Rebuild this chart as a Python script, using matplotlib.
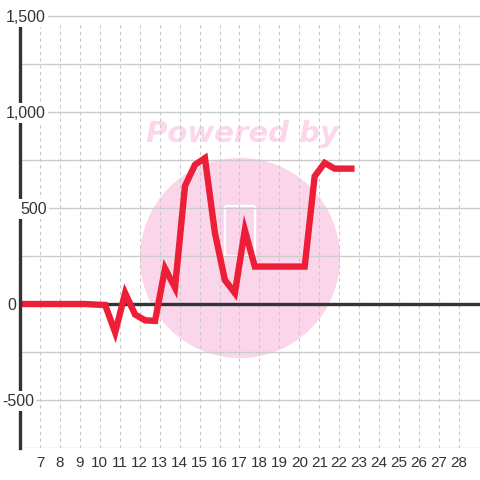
import matplotlib
matplotlib.use("Agg")
import matplotlib.pyplot as plt
from matplotlib.patches import Ellipse, FancyBboxPatch

plt.rcParams['font.family'] = ['Liberation Sans', 'DejaVu Sans']

# data (x in days, value)
days = [5.77, 6.27, 6.77, 7.27, 7.77, 8.27, 8.77, 9.27, 9.77, 10.27,
        10.77, 11.27, 11.77, 12.27, 12.77, 13.27, 13.77, 14.27, 14.77, 15.27,
        15.77, 16.27, 16.77, 17.27, 17.77, 18.27, 18.77, 19.27, 19.77, 20.27,
        20.77, 21.27, 21.77, 22.27, 22.77]
values = [0, 0, 0, 0, 0, 0, 0, 0, -3, -5,
          -148, 57, -55, -85, -88, 185, 85, 615, 725, 760,
          370, 125, 57, 385, 195, 195, 195, 195, 195, 195,
          665, 735, 705, 705, 705]

x_ticks = list(range(7, 29))
y_label_vals = [1500, 1000, 500, 0, -500]
y_label_text = ["1,500", "1,000", "500", "0", "-500"]
y_grid = [-750, -500, -250, 250, 500, 750, 1000, 1250, 1500]

W, H = 480, 480
fig = plt.figure(figsize=(4.8, 4.8), dpi=100)
fig.patch.set_facecolor('white')
ax = fig.add_axes([20 / W, 32 / H, 460 / W, 448 / H])
ax.set_facecolor('white')

xmin, xmax = 6, 6 + 460 / 19.95
ymin = -750
ymax = 304 / 0.192
ytop = (304 - 24) / 0.192
ax.set_xlim(xmin, xmax)
ax.set_ylim(ymin, ymax)

# watermark circle
circ = Ellipse(((240 - 20) / 460, (448 - 258) / 448), 200 / 460, 200 / 448,
               transform=ax.transAxes, facecolor='#fbd6ea', edgecolor='none', zorder=0.1)
ax.add_patch(circ)

# logo outline
logo = FancyBboxPatch(((225 - 20) / 460, (448 - 256) / 448), 30 / 460, 50 / 448,
                      boxstyle='round,pad=0,rounding_size=0.004',
                      transform=ax.transAxes, facecolor='none', edgecolor='white',
                      linewidth=1.6, zorder=0.2)
ax.add_patch(logo)

ax.text((242 - 20) / 460, (448 - 134) / 448, "Powered by", transform=ax.transAxes,
        ha='center', va='center', fontsize=21, fontweight='bold', fontstyle='italic',
        color='#fcd6ea', family=['DejaVu Sans'], zorder=0.3)

# grids
for yv in y_grid:
    ax.axhline(yv, color='#cccccc', linewidth=1.0, zorder=0.5)
ax.vlines(x_ticks, ymin, ytop, color='#c8c8c8', linewidth=0.8,
          linestyle=(0, (3, 3)), zorder=0.5)

# zero line
ax.axhline(0, color='#333333', linewidth=2.4, zorder=1)

# data line
ax.plot(days, values, color='#ed1e37', linewidth=4.6, solid_joinstyle='miter',
        solid_capstyle='butt', zorder=3)

# spines
for s in ['top', 'right', 'bottom']:
    ax.spines[s].set_visible(False)
ax.spines['left'].set_color('#333333')
ax.spines['left'].set_linewidth(2.4)
ax.spines['left'].set_zorder(4)
ax.spines['left'].set_bounds(ymin, ytop)

ax.set_yticks([])
ax.set_xticks(x_ticks)
ax.set_xticklabels([str(v) for v in x_ticks], fontsize=11, color='#333333')
ax.tick_params(axis='x', length=0, pad=6)

# y labels with white background
label_left = [6, 6, 20, 7, 2]
for v, t, lx in zip(y_label_vals, y_label_text, label_left):
    fig.text(lx / W, 1 - (304 - v * 0.192 + 5.5) / H, t, ha='left', va='baseline',
             fontsize=11.5, color='#333333', zorder=10,
             bbox=dict(facecolor='white', edgecolor='none', pad=1.5))

fig.savefig('out.png', dpi=100, facecolor='white')
